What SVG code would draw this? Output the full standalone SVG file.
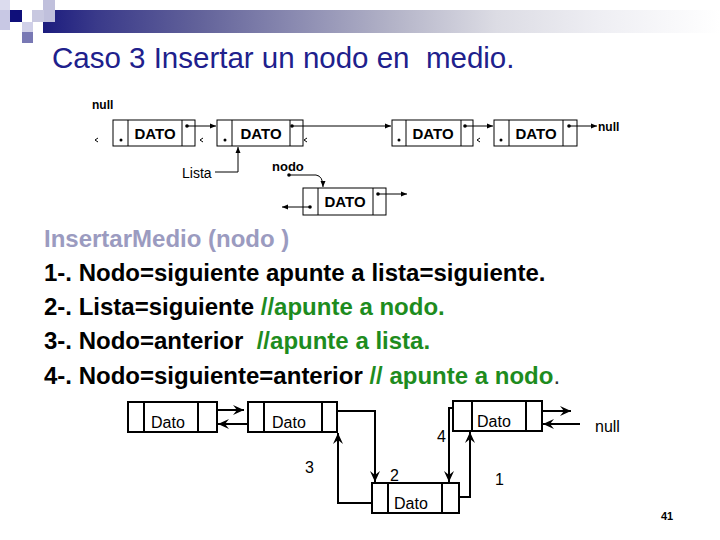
<svg xmlns="http://www.w3.org/2000/svg" width="720" height="540" viewBox="0 0 720 540">
<defs>
<linearGradient id="bar" x1="43" y1="0" x2="720" y2="0" gradientUnits="userSpaceOnUse">
<stop offset="0" stop-color="#1c1c7e"/>
<stop offset="0.08" stop-color="#3a3a8a"/>
<stop offset="0.23" stop-color="#62629a"/>
<stop offset="0.52" stop-color="#b4b4c8"/>
<stop offset="0.67" stop-color="#dcdce4"/>
<stop offset="0.82" stop-color="#eeeef3"/>
<stop offset="1" stop-color="#ffffff"/>
</linearGradient>
<marker id="sa" markerWidth="8" markerHeight="6" refX="6" refY="3" orient="auto" markerUnits="userSpaceOnUse">
<path d="M0,0.5 L6,3 L0,5.5 Z" fill="#000"/>
</marker>
<marker id="ba" markerWidth="14" markerHeight="12" refX="12" refY="6" orient="auto" markerUnits="userSpaceOnUse">
<path d="M12,6 L1,1 L5,6 L1,11 Z" fill="#000"/>
</marker>
</defs>
<style>
.box{fill:#fff;stroke:#000;stroke-width:1}
.bbox{fill:#fff;stroke:#000;stroke-width:2}
.ln{fill:none;stroke:#000;stroke-width:1}
.bl{fill:none;stroke:#000;stroke-width:2}
.dt{font-family:"Liberation Sans",Arial,sans-serif;font-weight:bold;font-size:15px;fill:#000}
.sm{font-family:"Liberation Sans",Arial,sans-serif;font-size:14px;fill:#000}
.bd{font-family:"Liberation Sans",Arial,sans-serif;font-size:16px;fill:#000}
.nl{font-family:"Liberation Sans",Arial,sans-serif;font-weight:bold;font-size:12px;fill:#000}
.title{font-family:"Liberation Sans",Arial,sans-serif;font-size:29.5px;fill:#20208c;white-space:pre}
.body{font-family:"Liberation Sans",Arial,sans-serif;font-size:24px;font-weight:bold;fill:#000;white-space:pre}
.g{fill:#1e8c1e}
</style>
<g id="decoration">
<rect x="43" y="10" width="677" height="23" fill="url(#bar)"/>
<rect x="0" y="0" width="10" height="10" fill="#dcdcee"/>
<rect x="0" y="10" width="10" height="20" fill="#c8c8e4"/>
<rect x="43" y="0" width="12" height="22" fill="#c0c0dc"/>
<rect x="32" y="10" width="12" height="12" fill="#c8c8e0"/>
<rect x="10" y="10" width="12" height="12" fill="#0f0f7a"/>
<rect x="22" y="22" width="11" height="10" fill="#d0d0e8"/>
<rect x="22" y="32" width="11" height="11" fill="#7878b4"/>
</g>
<text class="title" x="52" y="68">Caso 3 Insertar un nodo en  medio.</text>
<g id="top-diagram">
<text class="nl" x="92" y="109">null</text>
<g id="t1"><rect class="box" x="113" y="120" width="82" height="26"/><line class="ln" x1="128" y1="120" x2="128" y2="146"/><line class="ln" x1="182" y1="120" x2="182" y2="146"/><text class="dt" x="155" y="139" text-anchor="middle">DATO</text><circle cx="121" cy="140" r="1.5"/><circle cx="187" cy="126" r="1.8"/></g>
<g id="t2"><rect class="box" x="217" y="120" width="86" height="26"/><line class="ln" x1="232" y1="120" x2="232" y2="146"/><line class="ln" x1="290" y1="120" x2="290" y2="146"/><text class="dt" x="261" y="139" text-anchor="middle">DATO</text><circle cx="225" cy="140" r="1.5"/><circle cx="292" cy="126" r="1.8"/></g>
<g id="t3"><rect class="box" x="392" y="120" width="81" height="26"/><line class="ln" x1="406" y1="120" x2="406" y2="146"/><line class="ln" x1="461" y1="120" x2="461" y2="146"/><text class="dt" x="433" y="139" text-anchor="middle">DATO</text><circle cx="399" cy="140" r="1.5"/><circle cx="465" cy="126" r="1.8"/></g>
<g id="t4"><rect class="box" x="494" y="120" width="83" height="26"/><line class="ln" x1="509" y1="120" x2="509" y2="146"/><line class="ln" x1="563" y1="120" x2="563" y2="146"/><text class="dt" x="536" y="139" text-anchor="middle">DATO</text><circle cx="501" cy="140" r="1.5"/><circle cx="569" cy="126" r="1.8"/></g>
<g id="t5"><rect class="box" x="303" y="188" width="83" height="27"/><line class="ln" x1="318" y1="188" x2="318" y2="215"/><line class="ln" x1="373" y1="188" x2="373" y2="215"/><text class="dt" x="345" y="207" text-anchor="middle">DATO</text><circle cx="310" cy="207" r="1.8"/><circle cx="378" cy="194" r="1.8"/></g>
<text class="nl" x="598" y="131">null</text>
<text class="sm" x="182" y="178">Lista</text>
<text x="272" y="171" font-family="Liberation Sans,Arial,sans-serif" font-weight="bold" font-size="13">nodo</text>
<circle cx="289" cy="175" r="1.8"/>
</g>
<g id="connectors">
<line class="ln" x1="187" y1="126" x2="216" y2="126" marker-end="url(#sa)"/>
<line class="ln" x1="292" y1="126" x2="391" y2="126" marker-end="url(#sa)"/>
<line class="ln" x1="465" y1="126" x2="493" y2="126" marker-end="url(#sa)"/>
<line class="ln" x1="569" y1="126" x2="597" y2="126" marker-end="url(#sa)"/>
<polyline class="ln" points="215,172 238,172 238,147" marker-end="url(#sa)"/>
<path class="ln" d="M289,175 L316,175 Q323,176 323,187" marker-end="url(#sa)"/>
<line class="ln" x1="310" y1="207" x2="282" y2="207" marker-end="url(#sa)"/>
<line class="ln" x1="378" y1="194" x2="407" y2="194" marker-end="url(#sa)"/>
<path class="ln" d="M98,138 L95,140 L98,142 M203,138 L200,140 L203,142 M307,138 L304,140 L307,142 M480,138 L477,140 L480,142"/>
<line class="bl" x1="203" y1="410" x2="244" y2="410" marker-end="url(#ba)"/>
<line class="bl" x1="253" y1="424" x2="218" y2="424" marker-end="url(#ba)"/>
<polyline class="bl" points="327,411 375,411 375,482" marker-end="url(#ba)"/>
<polyline class="bl" points="382,503 338,503 338,433" marker-end="url(#ba)"/>
<polyline class="bl" points="465,408 449,408 449,482" marker-end="url(#ba)"/>
<polyline class="bl" points="448,497 470,497 470,432" marker-end="url(#ba)"/>
<line class="bl" x1="538" y1="411" x2="571" y2="411" marker-end="url(#ba)"/>
<line class="bl" x1="580" y1="424" x2="543" y2="424" marker-end="url(#ba)"/>
</g>
<g id="text-block">
<text class="body" x="44" y="247" style="fill:#9b9bc0">InsertarMedio (nodo )</text>
<text class="body" x="44" y="281">1-. Nodo=siguiente apunte a lista=siguiente.</text>
<text class="body" x="44" y="315">2-. Lista=siguiente <tspan class="g">//apunte a nodo.</tspan></text>
<text class="body" x="44" y="349">3-. Nodo=anterior  <tspan class="g">//apunte a lista.</tspan></text>
<text class="body" x="44" y="384">4-. Nodo=siguiente=anterior <tspan class="g">// apunte a nodo</tspan><tspan font-weight="normal" fill="#333">.</tspan></text>
</g>
<g id="bottom-diagram">
<g id="bA"><rect class="bbox" x="128" y="402" width="89" height="30"/><line class="bl" x1="144" y1="402" x2="144" y2="432"/><line class="bl" x1="198" y1="402" x2="198" y2="432"/><text class="bd" x="151" y="428">Dato</text></g>
<g id="bB"><rect class="bbox" x="248" y="402" width="89" height="30"/><line class="bl" x1="264" y1="402" x2="264" y2="432"/><line class="bl" x1="322" y1="402" x2="322" y2="432"/><text class="bd" x="272" y="428">Dato</text></g>
<g id="bC"><rect class="bbox" x="453" y="401" width="89" height="30"/><line class="bl" x1="472" y1="401" x2="472" y2="431"/><line class="bl" x1="526" y1="401" x2="526" y2="431"/><text class="bd" x="477" y="427">Dato</text></g>
<g id="bD"><rect class="bbox" x="372" y="483" width="87" height="30"/><line class="bl" x1="388" y1="483" x2="388" y2="513"/><line class="bl" x1="442" y1="483" x2="442" y2="513"/><text class="bd" x="394" y="509">Dato</text></g>
<text class="bd" x="305" y="473">3</text>
<text class="bd" x="437" y="442">4</text>
<text class="bd" x="390" y="481">2</text>
<text class="bd" x="495" y="485">1</text>
<text class="bd" x="595" y="432">null</text>
</g>
<text x="661" y="520" font-family="Liberation Sans,Arial,sans-serif" font-weight="bold" font-size="11">41</text>
</svg>
